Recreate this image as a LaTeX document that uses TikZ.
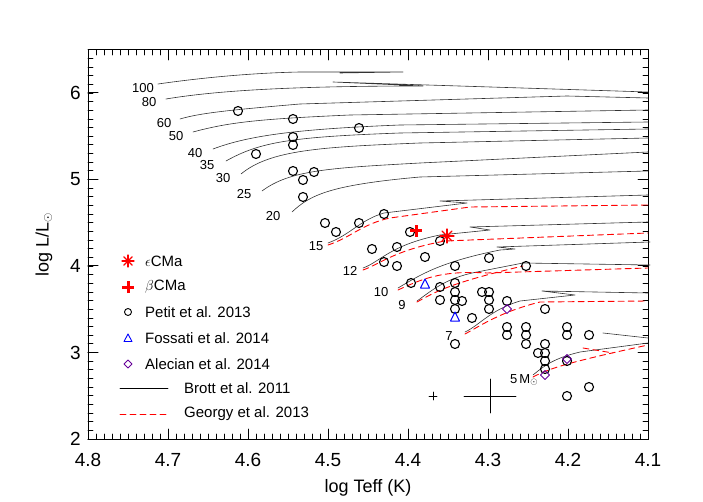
\documentclass[tikz,border=0pt]{standalone}
\usepackage{fontspec}
\setmainfont{Liberation Sans}
\usetikzlibrary{positioning}

\tikzset{
  track/.style={line width=0.6pt, black!80},
  redtrack/.style={line width=0.9pt, red, dash pattern=on 6pt off 4pt},
  obs/.style={line width=1.1pt, black},
  masslab/.style={font=\fontsize{13}{15}\selectfont, inner sep=0pt},
  ticklab/.style={font=\fontsize{19}{22}\selectfont, inner sep=0pt},
  legtext/.style={font=\fontsize{15}{18}\selectfont, anchor=west, inner sep=0pt}
}

\begin{document}
\begin{tikzpicture}[x=1pt, y=-1pt, line join=round, line cap=round]
  \useasboundingbox (0,0) rectangle (703,502);

  % frame and ticks
  \draw[line width=1pt] (88,50) rectangle (648,439);
  \foreach \i in {0,...,70} {
    \draw[line width=0.8pt] (88+8*\i,439) -- ++(0,-5);
    \draw[line width=0.8pt] (88+8*\i,50) -- ++(0,5);
  }
  \foreach \i/\lab in {0/4.8,1/4.7,2/4.6,3/4.5,4/4.4,5/4.3,6/4.2,7/4.1} {
    \draw[line width=1pt] (88+80*\i,439) -- ++(0,-10);
    \draw[line width=1pt] (88+80*\i,50) -- ++(0,10);
    \node[ticklab] (xl\i) at (88+80*\i,460) {\lab};
  }
  \foreach \i in {0,...,45} {
    \draw[line width=0.8pt] (88,439-8.65*\i) -- ++(5,0);
    \draw[line width=0.8pt] (648,439-8.65*\i) -- ++(-5,0);
  }
  \foreach \i/\lab in {0/2,1/3,2/4,3/5,4/6} {
    \draw[line width=1pt] (88,439-86.5*\i) -- ++(10,0);
    \draw[line width=1pt] (648,439-86.5*\i) -- ++(-10,0);
    \node[ticklab, anchor=east] (yl\i) at (81,439-86.5*\i) {\lab};
  }
  \node[ticklab, font=\fontsize{18}{22}\selectfont] (xtitle) at (368,488) {log Teff (K)};
  \node[ticklab, font=\fontsize{18}{22}\selectfont, rotate=90] (ytitle) at (44,245) {log L/L$_\odot$};

  % Brott tracks
  \draw[track] (158,84) .. controls (200,78) and (250,73) .. (300,72) -- (403,72) -- (340,73);
  \draw[track] (166,99) .. controls (220,90) and (300,86) .. (423,86) -- (333,82) -- (648,92);
  \draw[track] (180,119) .. controls (200,113) and (230,110) .. (300,104) -- (567,96) -- (648,98);
  \draw[track] (193,132) .. controls (230,122) and (260,119) .. (350,115) -- (648,110);
  \draw[track] (213,149) .. controls (250,135) and (300,129) .. (400,125) -- (648,122);
  \draw[track] (226,161) .. controls (260,142) and (290,137) .. (400,133) -- (648,129);
  \draw[track] (241,174) .. controls (270,150) and (320,147) .. (420,143) -- (648,138);
  \draw[track] (262,191) .. controls (290,170) and (330,168) .. (420,163) -- (648,152);
  \draw[track] (292,212) .. controls (310,195) and (330,185) .. (420,177) -- (648,171);
  \draw[track] (328,243) .. controls (350,235) and (360,220) .. (384,213) -- (467,203) -- (440,201) -- (648,195);
  \draw[track] (363,268) .. controls (380,262) and (390,245) .. (440,235) -- (490,230) -- (470,227) -- (648,222);
  \draw[track] (398,288) .. controls (420,275) and (440,262) .. (500,250) -- (515,249) -- (497,247) -- (650,242);
  \draw[track] (417,301) .. controls (430,292) and (445,278) .. (477,272) -- (523,263) -- (650,265);
  \draw[track] (465,332) .. controls (480,325) and (490,310) .. (520,301) -- (575,295) -- (542,291) -- (648,293);
  \draw[track] (533,375) .. controls (545,365) and (555,358) .. (580,352) -- (648,343);
  \draw[track] (603,333) -- (648,338);

  % Georgy tracks
  \draw[redtrack] (328,245) .. controls (350,238) and (362,224) .. (390,218) -- (470,207) -- (648,205);
  \draw[redtrack] (363,270) .. controls (380,264) and (395,250) .. (445,241) -- (648,233);
  \draw[redtrack] (398,290) .. controls (420,280) and (440,270) .. (487,273) -- (648,268);
  \draw[redtrack] (417,302) .. controls (435,292) and (450,283) .. (523,266);
  \draw[redtrack] (465,334) .. controls (480,326) and (500,312) .. (540,302) -- (648,301);
  \draw[redtrack] (533,377) .. controls (550,368) and (570,362) .. (648,345);
  \draw[redtrack] (583,348) -- (613,353);

  % mass labels
  \foreach \m/\px/\py in {100/143/88, 80/149/102, 60/164/123, 50/176/136, 40/195/153,
      35/207/165, 30/223/178, 25/244/194, 20/273/216, 15/316/246, 12/350/271,
      10/381/292, 9/402/305, 7/449/336}
    \node[masslab] (m\m) at (\px,\py) {\m};
  \node[masslab] (m5) at (524,380) {5\,M$_\odot$};

  % Petit et al. 2013
  \foreach \px/\py in {238/111, 293/119, 359/128, 293/137, 293/145, 256/154, 293/171,
      314/172, 303/180, 303/197, 325/223, 336/232, 359/223, 384/214, 372/249, 397/247,
      410/232, 440/241, 384/262, 397/266, 425/257, 455/266, 489/258, 526/266, 411/283,
      440/287, 440/300, 455/283, 455/292, 455/300, 462/301, 455/309, 472/318, 482/292,
      489/292, 489/300, 489/309, 507/301, 545/309, 507/327, 507/335, 526/327, 526/335,
      526/344, 455/344, 538/353, 545/344, 545/353, 545/361, 545/369, 567/327, 567/335,
      567/361, 589/335, 567/396, 589/387}
    \draw[obs] (\px,\py) circle (4.5);

  % Fossati et al. 2014
  \foreach \px/\py in {425/284, 455/317}
    \draw[line width=1pt, blue] (\px-4.5,\py+4) -- (\px+4.5,\py+4) -- (\px,\py-5) -- cycle;
  % Alecian et al. 2014
  \foreach \px/\py in {507/309, 567/359, 545/375}
    \draw[line width=0.9pt, violet!80!blue] (\px-4.5,\py) -- (\px,\py-4.5) -- (\px+4.5,\py) -- (\px,\py+4.5) -- cycle;

  % beta CMa and epsilon CMa
  \coordinate (bcma) at (416,231);
  \coordinate (ecma) at (447,236);
  \draw[red, line width=3pt, line cap=butt] ([xshift=-6pt]bcma) -- ([xshift=6pt]bcma)
    ([yshift=-6pt]bcma) -- ([yshift=6pt]bcma);
  \foreach \a in {0,45,90,135}
    \draw[red, line width=1.2pt] (ecma) ++(\a:7) -- ++(\a+180:14);

  % error bars
  \coordinate (err1) at (433,396);
  \coordinate (err2) at (490,396);
  \draw[line width=0.8pt] ([xshift=-4pt]err1) -- ([xshift=4pt]err1)
    ([yshift=-4pt]err1) -- ([yshift=4pt]err1);
  \draw[line width=0.8pt] ([xshift=-26pt]err2) -- ([xshift=26pt]err2)
    ([yshift=-17pt]err2) -- ([yshift=17pt]err2);

  % legend
  \coordinate (k1) at (128,261);
  \coordinate (k2) at (128,287);
  \coordinate (k3) at (128,312);
  \coordinate (k4) at (128,338);
  \coordinate (k5) at (128,364);
  \foreach \a in {0,45,90,135}
    \draw[red, line width=1.2pt] (k1) ++(\a:6) -- ++(\a+180:12);
  \draw[red, line width=3pt, line cap=butt] ([xshift=-6pt]k2) -- ([xshift=6pt]k2)
    ([yshift=-6pt]k2) -- ([yshift=6pt]k2);
  \draw[obs, line width=0.9pt] (k3) circle (3.5);
  \draw[line width=0.9pt, blue] ([shift={(-4,3.5)}]k4) -- ([shift={(4,3.5)}]k4) -- ([shift={(0,-4)}]k4) -- cycle;
  \draw[line width=0.9pt, violet!80!blue] ([xshift=-4pt]k5) -- ([yshift=-4pt]k5) -- ([xshift=4pt]k5) -- ([yshift=4pt]k5) -- cycle;
  \node[legtext] (t1) at (145,261) {$\epsilon$CMa};
  \node[legtext] (t2) at (145,287) {$\beta$CMa};
  \node[legtext] (t3) at (145,312) {Petit et al. 2013};
  \node[legtext] (t4) at (145,338) {Fossati et al. 2014};
  \node[legtext] (t5) at (145,364) {Alecian et al. 2014};
  \coordinate (l1a) at (120,388);
  \coordinate (l1b) at (168,388);
  \coordinate (l2a) at (120,414);
  \coordinate (l2b) at (168,414);
  \draw[track, black] (l1a) -- (l1b);
  \draw[redtrack] (l2a) -- (l2b);
  \node[legtext] (t6) at (184,388) {Brott et al. 2011};
  \node[legtext] (t7) at (184,414) {Georgy et al. 2013};
\end{tikzpicture}
\end{document}
